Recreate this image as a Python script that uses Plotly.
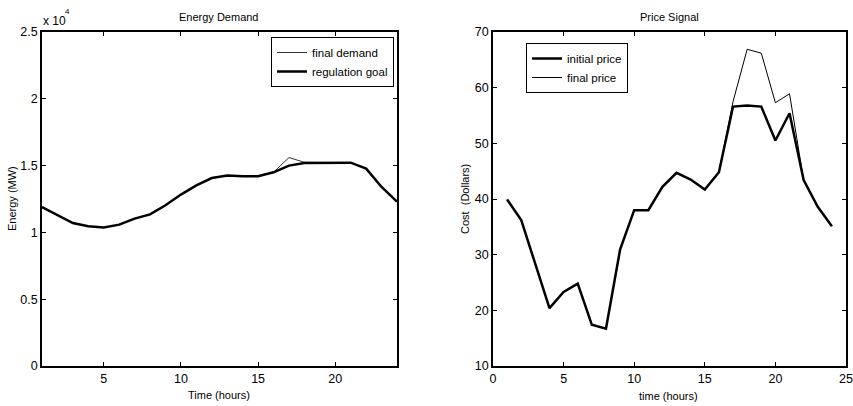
import plotly.graph_objects as go

# ---- data ----
hours = list(range(1, 25))
regulation_goal = [11900, 11280, 10700, 10460, 10360, 10580, 11030, 11350, 12030, 12830,
                   13520, 14070, 14250, 14200, 14200, 14500, 15000, 15200, 15220, 15220,
                   15220, 14770, 13400, 12300]
final_demand = [11900, 11280, 10700, 10460, 10360, 10580, 11030, 11350, 12030, 12830,
                13520, 14070, 14250, 14200, 14200, 14500, 15600, 15250, 15220, 15220,
                15220, 14770, 13400, 12300]
initial_price = [39.9, 36.2, 28.3, 20.4, 23.3, 24.8, 17.4, 16.7, 30.9, 38.0,
                 38.0, 42.2, 44.7, 43.5, 41.7, 44.8, 56.6, 56.8, 56.6, 50.5,
                 55.4, 43.4, 38.6, 35.1]
final_price = [39.9, 36.2, 28.3, 20.4, 23.3, 24.8, 17.4, 16.7, 30.9, 38.0,
               38.0, 42.2, 44.7, 43.5, 41.7, 44.8, 57.5, 66.9, 66.2, 57.3,
               58.9, 43.4, 38.6, 35.1]
energy_ticks = [0, 5000, 10000, 15000, 20000, 25000]
energy_ticklabels = ["0", "0.5", "1", "1.5", "2", "2.5"]

W, H = 853, 406
FONT = "Liberation Sans, Arial, sans-serif"

fig = go.Figure()
fig.add_trace(go.Scatter(x=hours, y=final_demand, mode="lines", name="final demand",
                         line=dict(color="#333333", width=1), xaxis="x", yaxis="y",
                         legend="legend"))
fig.add_trace(go.Scatter(x=hours, y=regulation_goal, mode="lines", name="regulation goal",
                         line=dict(color="black", width=2.5), xaxis="x", yaxis="y",
                         legend="legend"))
fig.add_trace(go.Scatter(x=hours, y=initial_price, mode="lines", name="initial price",
                         line=dict(color="black", width=2.5), xaxis="x2", yaxis="y2",
                         legend="legend2"))
fig.add_trace(go.Scatter(x=hours, y=final_price, mode="lines", name="final price",
                         line=dict(color="black", width=1), xaxis="x2", yaxis="y2",
                         legend="legend2"))

def px_x(p):
    return p / W

def px_y(p):
    return 1 - p / H

axis_common = dict(showline=True, linecolor="black", linewidth=1.5, mirror="ticks",
                   ticks="inside", ticklen=4, tickcolor="black", showgrid=False,
                   zeroline=False, automargin=False,
                   tickfont=dict(family=FONT, size=12.5, color="black"))

def label(text, x, y, angle=0, size=11, xanchor="center"):
    return dict(text=text, x=px_x(x), y=px_y(y), xref="paper", yref="paper",
                showarrow=False, textangle=angle, xanchor=xanchor, yanchor="middle",
                font=dict(family=FONT, size=size, color="black"))

fig.update_layout(
    width=W, height=H,
    margin=dict(l=0, r=0, t=0, b=0, autoexpand=False),
    paper_bgcolor="white", plot_bgcolor="white",
    font=dict(family=FONT, size=11, color="black"),
    xaxis=dict(domain=[px_x(42), px_x(397)], range=[1, 24], tickvals=[5, 10, 15, 20],
               anchor="y", **axis_common),
    yaxis=dict(domain=[px_y(366), px_y(32)], range=[0, 25000], tickvals=energy_ticks,
               ticktext=energy_ticklabels, anchor="x", **axis_common),
    xaxis2=dict(domain=[px_x(493), px_x(846)], range=[0, 25], tickvals=[0, 5, 10, 15, 20, 25],
                anchor="y2", **axis_common),
    yaxis2=dict(domain=[px_y(366), px_y(32)], range=[10, 70], tickvals=[10, 20, 30, 40, 50, 60, 70],
                anchor="x2", **axis_common),
    legend=dict(x=px_x(394), y=px_y(37), xanchor="right", yanchor="top",
                bordercolor="black", borderwidth=1, bgcolor="white",
                font=dict(family=FONT, size=11.5), tracegroupgap=0),
    legend2=dict(x=px_x(526), y=px_y(43), xanchor="left", yanchor="top",
                 bordercolor="black", borderwidth=1, bgcolor="white",
                 font=dict(family=FONT, size=11.5), tracegroupgap=0),
    showlegend=True,
    annotations=[
        label("Energy Demand", 219, 17),
        label("Price Signal", 669, 17),
        label("x 10", 41, 21, size=12, xanchor="left"),
        label("4", 67, 11, size=8),
        label("Time (hours)", 219, 395),
        label("time (hours)", 668, 396),
        label("Energy (MW)", 12, 199, angle=-90),
        label("Cost  (Dollars)", 465, 199, angle=-90),
    ],
)

fig.write_html("out.html", config={"displayModeBar": False},
               post_script="document.body.style.margin='0';document.body.style.overflow='hidden';")
